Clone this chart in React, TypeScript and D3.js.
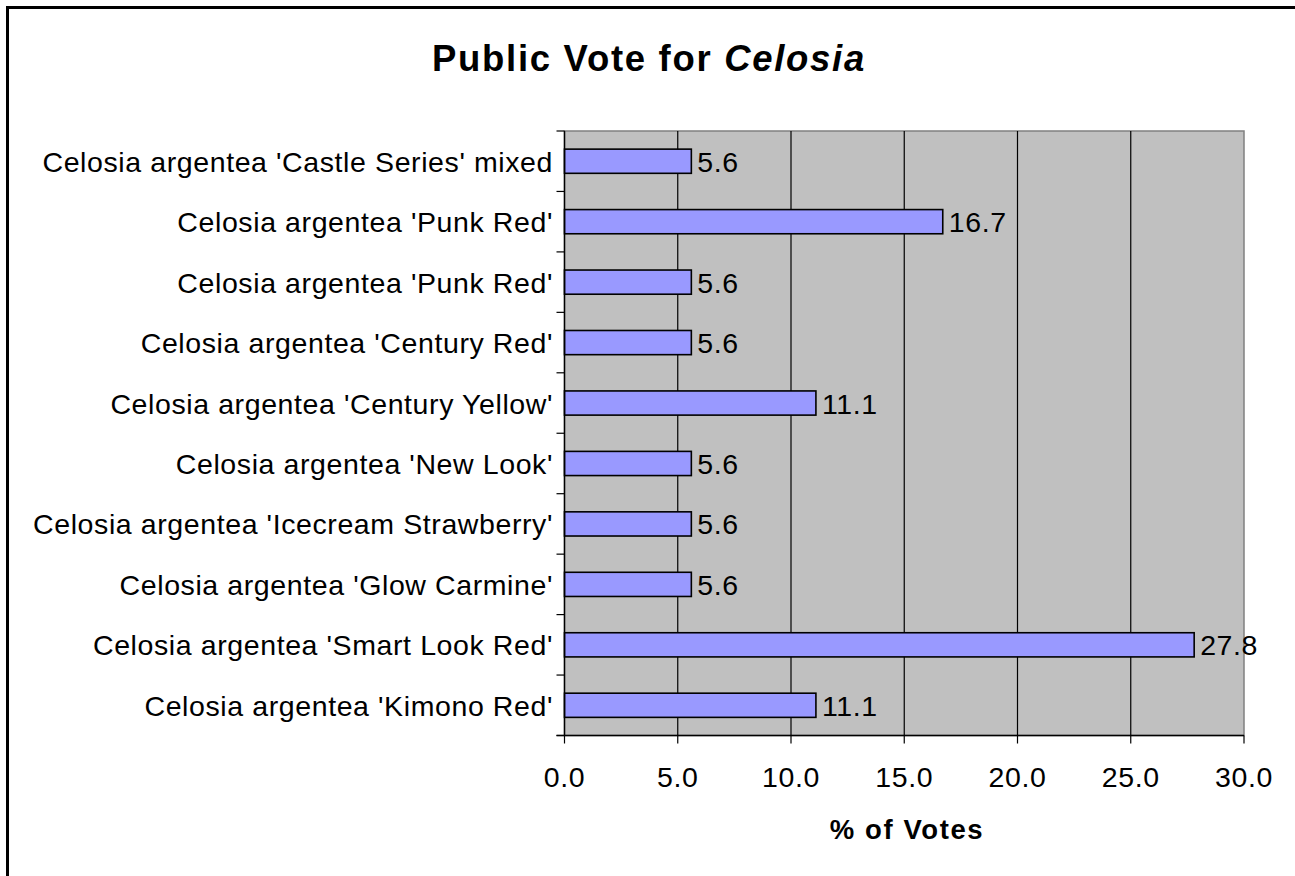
import React from "react";
import * as d3 from "d3";

const categories = [
  "Celosia argentea 'Castle Series' mixed",
  "Celosia argentea 'Punk Red'",
  "Celosia argentea 'Punk Red'",
  "Celosia argentea 'Century Red'",
  "Celosia argentea 'Century Yellow'",
  "Celosia argentea 'New Look'",
  "Celosia argentea 'Icecream Strawberry'",
  "Celosia argentea 'Glow Carmine'",
  "Celosia argentea 'Smart Look Red'",
  "Celosia argentea 'Kimono Red'",
];
const votes = [5.6, 16.7, 5.6, 5.6, 11.1, 5.6, 5.6, 5.6, 27.8, 11.1];
const xTicks = [0, 5, 10, 15, 20, 25, 30];

const W = 1295;
const H = 876;
const plot = { left: 564.5, right: 1244, top: 131, bottom: 735.5 };
const FONT = "'Liberation Sans', Arial, sans-serif";

export default function App() {
  const x = d3.scaleLinear().domain([0, 30]).range([plot.left, plot.right]);
  const y = d3
    .scaleBand<number>()
    .domain(d3.range(categories.length))
    .range([plot.top, plot.bottom])
    .paddingInner(0.6)
    .paddingOuter(0.3);
  const step = (plot.bottom - plot.top) / categories.length;
  const fmt = d3.format(".1f");

  return (
    <svg
      width={W}
      height={H}
      style={{ position: "absolute", left: 0, top: 0, display: "block" }}
      fontFamily={FONT}
    >
      <rect x={0} y={0} width={W} height={H} fill="#fff" />
      <rect x={7.5} y={7.5} width={W + 20} height={H + 20} fill="none" stroke="#000" strokeWidth={3} />

      {/* title */}
      <text x={649} y={71} textAnchor="middle" fontSize={36.5} fontWeight="bold" letterSpacing={1.7}>
        Public Vote for <tspan fontStyle="italic">Celosia</tspan>
      </text>

      {/* plot area */}
      <rect
        x={plot.left}
        y={plot.top}
        width={plot.right - plot.left}
        height={plot.bottom - plot.top}
        fill="#c0c0c0"
        stroke="#808080"
        strokeWidth={1.5}
      />
      {xTicks.slice(1, -1).map((t) => (
        <line key={"g" + t} x1={x(t)} x2={x(t)} y1={plot.top} y2={plot.bottom} stroke="#000" strokeWidth={1.2} />
      ))}

      {/* bars */}
      {votes.map((v, i) => (
        <g key={"b" + i}>
          <rect
            x={x(0)}
            y={y(i)!}
            width={x(v) - x(0)}
            height={y.bandwidth()}
            fill="#9999ff"
            stroke="#000"
            strokeWidth={1.6}
          />
          <text
            x={x(v) + 6}
            y={y(i)! + y.bandwidth() / 2 + 10.5}
            fontSize={28.5}
            letterSpacing={0.6}
          >
            {fmt(v)}
          </text>
        </g>
      ))}

      {/* axes */}
      <line x1={plot.left} x2={plot.left} y1={plot.top} y2={plot.bottom} stroke="#000" strokeWidth={1.4} />
      <line x1={plot.left - 8} x2={plot.right} y1={plot.bottom} y2={plot.bottom} stroke="#000" strokeWidth={1.4} />
      {d3.range(categories.length + 1).map((i) => (
        <line
          key={"yt" + i}
          x1={plot.left - 8}
          x2={plot.left}
          y1={plot.top + i * step}
          y2={plot.top + i * step}
          stroke="#000"
          strokeWidth={1.2}
        />
      ))}
      {xTicks.map((t) => (
        <g key={"xt" + t}>
          <line x1={x(t)} x2={x(t)} y1={plot.bottom} y2={plot.bottom + 8} stroke="#000" strokeWidth={1.2} />
          <text x={x(t)} y={787} textAnchor="middle" fontSize={28.5} letterSpacing={0.6}>
            {fmt(t)}
          </text>
        </g>
      ))}

      {categories.map((c, i) => (
        <text
          key={"c" + i}
          x={553}
          y={plot.top + (i + 0.5) * step + 10.5}
          textAnchor="end"
          fontSize={28.5}
          letterSpacing={0.6}
        >
          {c}
        </text>
      ))}

      <text x={907} y={787 + 52} textAnchor="middle" fontSize={27.5} fontWeight="bold" letterSpacing={1.6}>
        % of Votes
      </text>
    </svg>
  );
}
